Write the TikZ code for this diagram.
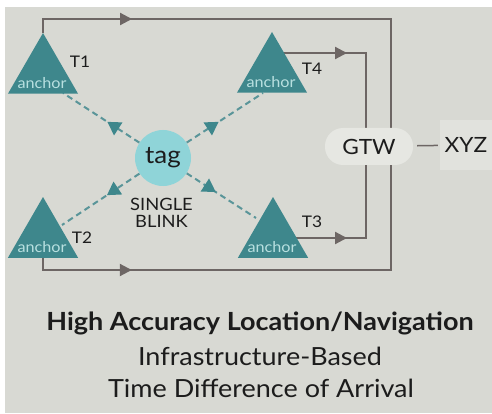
\documentclass[tikz,border=0pt]{standalone}
\usepackage{fontspec}
\setmainfont{Lato}[FakeStretch=1.08]
\usetikzlibrary{shapes.geometric,arrows.meta,decorations.markings,backgrounds,calc}
\definecolor{bgc}{HTML}{D8D9D3}
\definecolor{teal1}{HTML}{3E878C}
\definecolor{tagc}{HTML}{8FD4D8}
\definecolor{linec}{HTML}{6D6664}
\definecolor{dashc}{HTML}{5A9599}
\definecolor{anchtxt}{HTML}{B8E0E0}
\definecolor{gtwc}{HTML}{E6E7E2}
\definecolor{xyzc}{HTML}{E1E2DD}
\definecolor{txt}{HTML}{1C1C1C}
\begin{document}
\begin{tikzpicture}[x=1pt,y=-1pt,
  anchorshape/.style={regular polygon, regular polygon sides=3, minimum size=81pt, inner sep=0pt, outer sep=0pt, fill=teal1},
  anchorlabel/.style={text=anchtxt, font=\fontsize{15}{15}\selectfont, inner sep=0pt},
  tlabel/.style={text=txt, font=\fontsize{16}{16}\selectfont, inner sep=0pt},
  gline/.style={draw=linec, line width=2.2pt},
  garrow/.style={postaction={decorate}, decoration={markings, mark=at position #1 with {\arrow[linec]{Triangle[length=12pt,width=12pt]}}}},
  dline/.style={draw=dashc, line width=2pt, dash pattern=on 6pt off 4pt},
  tarrow/.style={postaction={decorate}, decoration={markings, mark=at position #1 with {\arrow[teal1]{Triangle[length=13pt,width=15pt]}}}},
  bigtext/.style={text=txt, font=\fontsize{25}{25}\selectfont, inner sep=0pt, anchor=base},
]
\useasboundingbox (0,0) rectangle (492,414);

% anchors
\node[anchorshape] (T1) at (43,73.5) {};
\node[anchorshape] (T2) at (43,237.5) {};
\node[anchorshape] (T4) at (272,72.5) {};
\node[anchorshape] (T3) at (273,237.5) {};
\node[anchorlabel] (a1) at (42,83) {anchor};
\node[anchorlabel] (a2) at (42,247) {anchor};
\node[anchorlabel] (a4) at (271,82) {anchor};
\node[anchorlabel] (a3) at (272,247) {anchor};
\node[tlabel] (l1) at (80,62) {T1};
\node[tlabel] (l2) at (82,238) {T2};
\node[tlabel] (l4) at (312,69) {T4};
\node[tlabel] (l3) at (312,222) {T3};

% tag
\node[circle, fill=tagc, minimum size=56pt, inner sep=0pt, text=txt, font=\fontsize{24}{24}\selectfont] (tag) at (163,158) {tag};
\node[align=center, text=txt, font=\fontsize{17}{17}\selectfont, inner sep=0pt] (blink) at (161.5,213) {SINGLE\\BLINK};

% gateway
\node[rounded corners=18pt, fill=gtwc, minimum width=88pt, minimum height=37pt, text=txt, font=\fontsize{21}{21}\selectfont] (GTW) at (369,146.5) {GTW};
\node[fill=xyzc, minimum width=52pt, minimum height=50pt, inner sep=0pt, text=txt, font=\fontsize{21}{21}\selectfont] (XYZ) at (466,145) {XYZ};
\coordinate (cTR) at (391,19);
\coordinate (cBR) at (391,270);
\coordinate (c4) at (366,53);
\coordinate (c3) at (366,238);

% captions
\node[bigtext, font=\bfseries\fontsize{25}{25}\selectfont] (h1) at (260,330) {High Accuracy Location/Navigation};
\node[bigtext] (h2) at (260,365) {Infrastructure-Based};
\node[bigtext] (h3) at (261,397) {Time Difference of Arrival};

\begin{pgfonlayer}{background}
\fill[white] (0,0) rectangle (492,414);
\fill[bgc] (5,7) rectangle (492,413);
% gray connectors
\draw[gline, garrow=103pt] (T1.corner 1) |- (cTR) -- (cTR |- GTW.north);
\draw[gline, garrow=101pt] (T2.side 2) |- (cBR) -- (cBR |- GTW.south);
\draw[gline, garrow=75pt] ($(T4.center)+(0,-19.5)$) -- (c4) -- (c4 |- GTW.north);
\draw[gline, garrow=74pt] (T3.center |- c3) -- (c3) -- (c3 |- GTW.south);
\draw[draw=linec, line width=1.5pt, shorten <=4pt, shorten >=2pt] (GTW) -- (XYZ);
% blink paths
\draw[dline, tarrow=0.42] (tag) -- ($(T1.center)+(20,19.5)$);
\draw[dline, tarrow=0.42] (tag) -- ($(T4.center)+(-9,20.5)$);
\draw[dline, tarrow=0.42] (tag) -- ($(T2.center)+(19,-12.5)$);
\draw[dline, tarrow=0.42] (tag) -- ($(T3.center)+(-17,-19.5)$);
\end{pgfonlayer}
\end{tikzpicture}
\end{document}
